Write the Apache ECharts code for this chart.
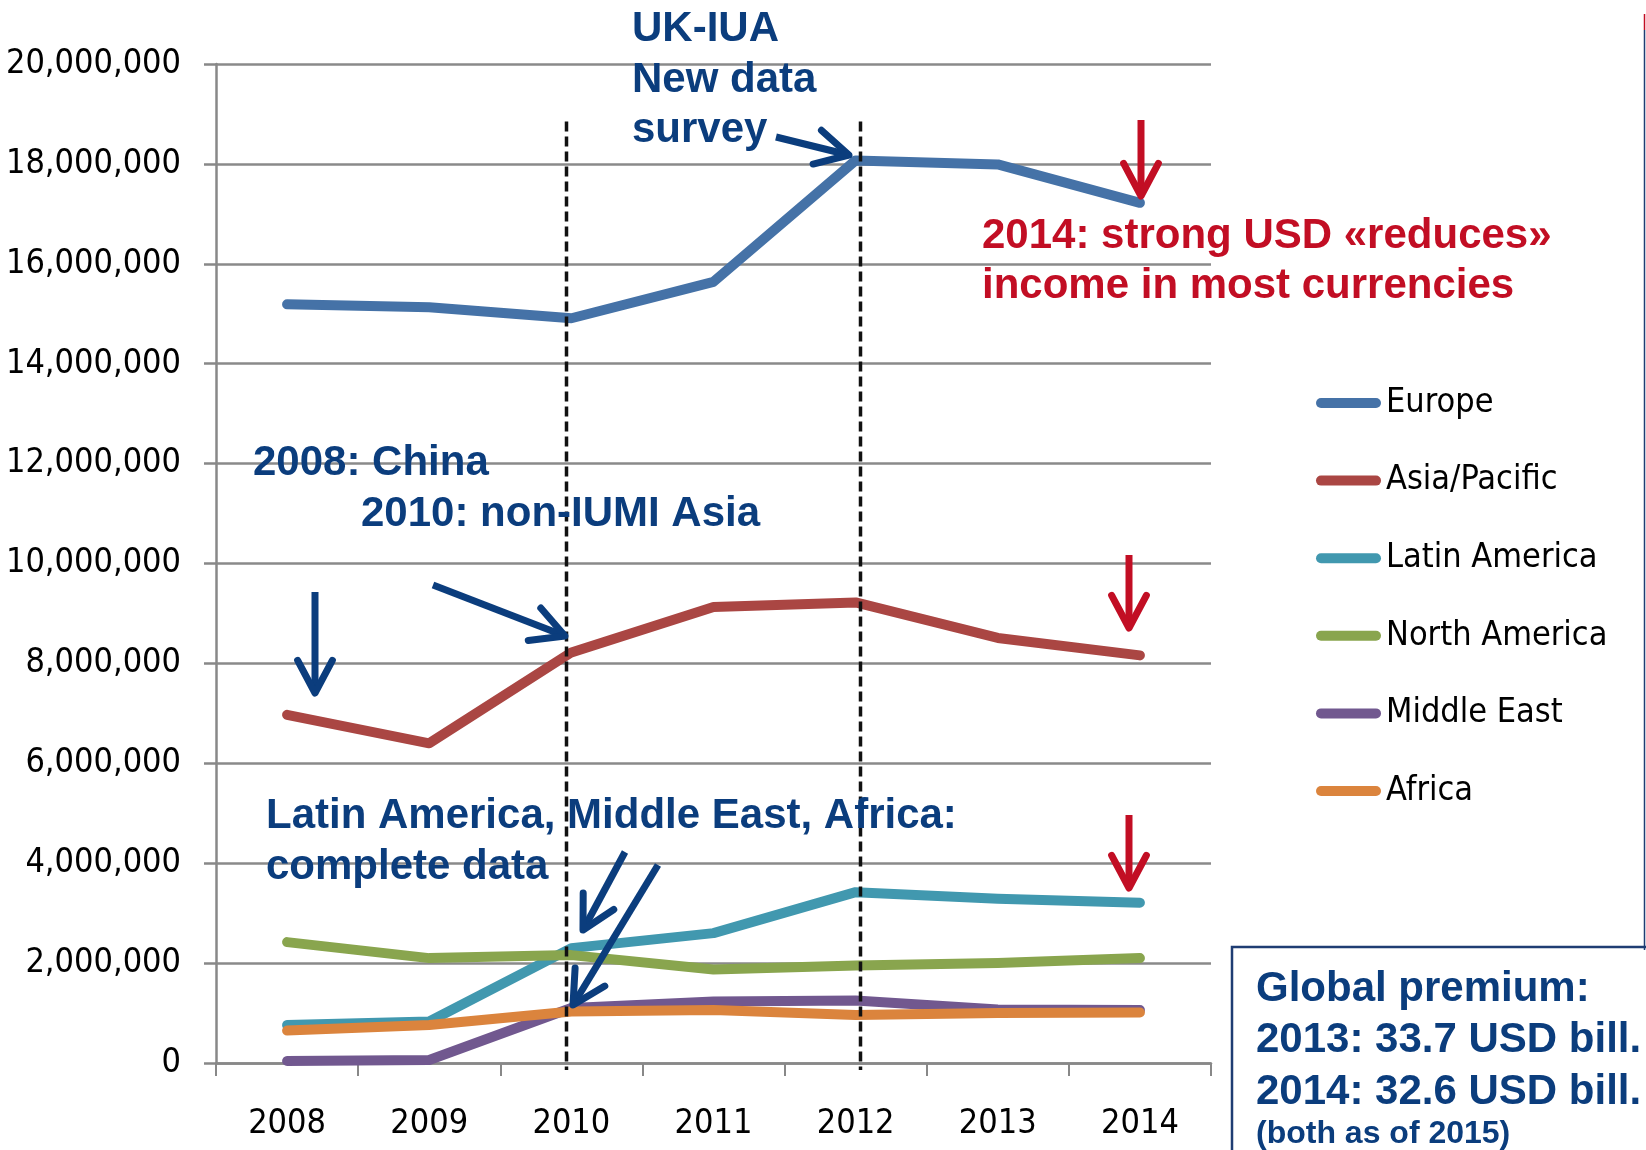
<!DOCTYPE html>
<html lang="en">
<head>
  <meta charset="UTF-8">
  <title>Premium by region 2008-2014</title>
  <script src="https://cdn.jsdelivr.net/npm/echarts@6/dist/echarts.min.js"></script>
  <style>
    html, body { margin: 0; padding: 0; background: #fff; }
    #chart { width: 1646px; height: 1150px; }
  </style>
</head>
<body>
  <div id="chart"></div>
  <script>
    // data
    const years = ['2008', '2009', '2010', '2011', '2012', '2013', '2014'];
    const europe = [15190000, 15130000, 14910000, 15640000, 18070000, 17990000, 17220000];
    const asiaPacific = [6970000, 6400000, 8220000, 9130000, 9220000, 8510000, 8160000];
    const latinAmerica = [760000, 830000, 2300000, 2600000, 3420000, 3290000, 3210000];
    const northAmerica = [2420000, 2100000, 2160000, 1870000, 1950000, 2000000, 2100000];
    const middleEast = [40000, 60000, 1100000, 1230000, 1250000, 1070000, 1060000];
    const africa = [650000, 760000, 1030000, 1060000, 960000, 1000000, 1010000];
    const seriesNames = ['Europe', 'Asia/Pacific', 'Latin America', 'North America', 'Middle East', 'Africa'];
    const colors = ['#4572A7', '#AA4643', '#4198AF', '#89A54E', '#71588F', '#DB843D'];
    const markedYears = ['2010', '2012'];

    const narrow = "'Liberation Sans Narrow', 'DejaVu Sans Condensed', sans-serif";
    const bold = "bold 42px 'Liberation Sans', Arial, sans-serif";
    const blue = '#0b3d7d';
    const red = '#c20e24';

    const chart = echarts.init(document.getElementById('chart'));

    function arrow(x1, y1, x2, y2, color) {
      const ang = Math.atan2(y2 - y1, x2 - x1);
      const L = 37, a = Math.PI * 28 / 180;
      const p1 = [x2 - L * Math.cos(ang - a), y2 - L * Math.sin(ang - a)];
      const p2 = [x2 - L * Math.cos(ang + a), y2 - L * Math.sin(ang + a)];
      return [
        { type: 'line', z: 20, shape: { x1: x1, y1: y1, x2: x2, y2: y2 },
          style: { stroke: color, lineWidth: 7, lineCap: 'butt' } },
        { type: 'polyline', z: 20, shape: { points: [p1, [x2, y2], p2] },
          style: { stroke: color, lineWidth: 7, lineCap: 'round', lineJoin: 'round', fill: null } }
      ];
    }

    function label(text, x, y, color, font) {
      return { type: 'text', x: x, y: y, z: 15,
        style: { text: text, fill: color, font: font || bold, align: 'left', verticalAlign: 'middle' } };
    }

    const allData = [europe, asiaPacific, latinAmerica, northAmerica, middleEast, africa];
    const series = allData.map((d, i) => ({
      name: seriesNames[i],
      type: 'line',
      data: d,
      symbol: 'none',
      color: colors[i],
      lineStyle: { width: 10, color: colors[i], cap: 'round', join: 'round' },
      emphasis: { disabled: true }
    }));

    const graphics = [
      label('UK-IUA', 632, 29, blue),
      label('New data', 632, 80, blue),
      label('survey', 632, 130, blue),
      label('2008: China', 253, 463, blue),
      label('2010: non-IUMI Asia', 361, 514, blue),
      label('Latin America, Middle East, Africa:', 266, 816, blue),
      label('complete data', 266, 867, blue),
      label('2014: strong USD \u00abreduces\u00bb', 982, 236, red),
      label('income in most currencies', 982, 286, red),
      { type: 'rect', z: 15, shape: { x: 1232, y: 947, width: 430, height: 220 },
        style: { fill: '#fff', stroke: '#1f3d73', lineWidth: 2.5 } },
      label('Global premium:', 1256, 989, blue),
      label('2013: 33.7 USD bill.', 1256, 1040, blue),
      label('2014: 32.6 USD bill.', 1256, 1092, blue),
      label('(both as of 2015)', 1256, 1134, blue, "bold 32px 'Liberation Sans', Arial, sans-serif"),
      { type: 'line', z: 15, shape: { x1: 1644.5, y1: 30, x2: 1644.5, y2: 950 },
        style: { stroke: '#1f3d73', lineWidth: 1.5 } },
      { type: 'line', z: 15, shape: { x1: 1644.5, y1: 14, x2: 1644.5, y2: 30 },
        style: { stroke: red, lineWidth: 1.5 } }
    ].concat(
      arrow(776, 137, 849, 155, blue),
      arrow(315, 592, 315, 693, blue),
      arrow(433, 585, 565, 636, blue),
      arrow(625, 852, 583, 930, blue),
      arrow(658, 865, 573, 1005, blue),
      arrow(1141, 120, 1141, 196, red),
      arrow(1129, 555, 1129, 628, red),
      arrow(1129, 815, 1129, 888, red)
    );

    chart.setOption({
      animation: false,
      grid: { left: 216, right: 435, top: 64, bottom: 87, outerBoundsMode: 'none', containLabel: false },
      legend: {
        orient: 'vertical',
        left: 1311,
        top: 378,
        itemWidth: 65,
        itemHeight: 10,
        itemGap: 37.6,
        icon: 'path://M5,0 L60,0 A5,5 0 0 1 60,10 L5,10 A5,5 0 0 1 5,0 Z',
        selectedMode: false,
        data: seriesNames,
        textStyle: { fontFamily: narrow, fontSize: 34, color: '#000', lineHeight: 40 }
      },
      xAxis: {
        type: 'category',
        data: years,
        boundaryGap: true,
        axisLine: { lineStyle: { color: '#888', width: 2.5 } },
        axisTick: { show: true, length: 13, lineStyle: { color: '#888', width: 2 } },
        axisLabel: { fontFamily: narrow, fontSize: 34, color: '#000', margin: 44 }
      },
      yAxis: {
        type: 'value',
        min: 0,
        max: 20000000,
        interval: 2000000,
        axisLine: { show: true, lineStyle: { color: '#888', width: 2.5 } },
        axisTick: { show: true, length: 12, lineStyle: { color: '#888', width: 2.5 } },
        splitLine: { lineStyle: { color: '#8a8a8a', width: 2.5 } },
        axisLabel: {
          fontFamily: narrow, fontSize: 34, color: '#000', margin: 35,
          formatter: v => v.toLocaleString('en-US')
        }
      },
      series: series,
      graphic: graphics
    });

    // dashed markers near 2010 and 2012 (hand-placed in the original, slightly off centre)
    const dashShift = [-5, 4];
    const dashTop = chart.convertToPixel({ yAxisIndex: 0 }, 18850000);
    const dashBottom = chart.convertToPixel({ yAxisIndex: 0 }, 0) + 7;
    const dashes = markedYears.map((y, i) => {
      const x = Math.round(chart.convertToPixel({ xAxisIndex: 0 }, y)) + dashShift[i] + 0.5;
      return { type: 'line', z: 12, shape: { x1: x, y1: dashTop, x2: x, y2: dashBottom },
        style: { stroke: '#111', lineWidth: 3.5, lineDash: [10, 5] } };
    });
    chart.setOption({ graphic: graphics.concat(dashes) });
  </script>
</body>
</html>
